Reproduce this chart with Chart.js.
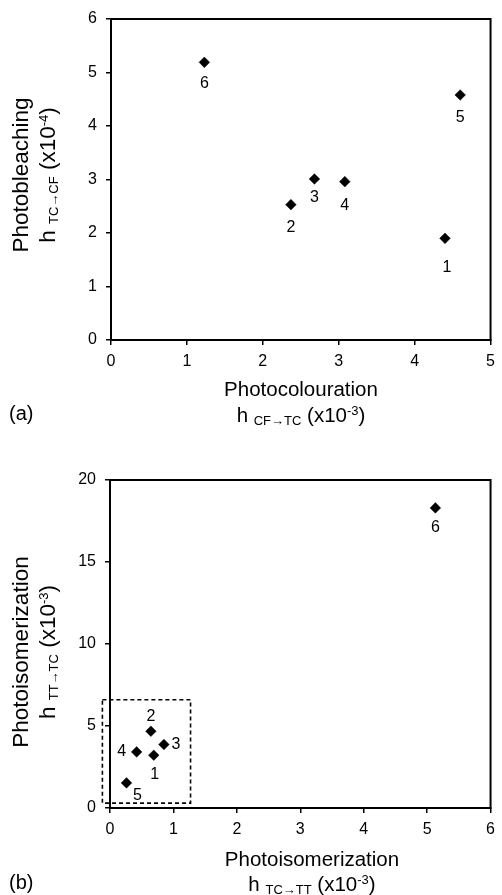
<!DOCTYPE html>
<html>
<head>
<meta charset="utf-8">
<script src="https://cdn.jsdelivr.net/npm/chart.js@4.4.1/dist/chart.umd.min.js"></script>
<style>
    html, body { margin: 0; padding: 0; background: #fff; }
    body { width: 502px; height: 895px; position: relative; overflow: hidden;
           font-family: "Liberation Sans", Arial, sans-serif; color: #000; }
    .panel { position: absolute; left: 0; width: 502px; }
    .title { position: absolute; white-space: nowrap; text-align: center; }
    .title div { height: 26px; line-height: 26px; }
    .title sub, .title sup { font-size: 13px; line-height: 0; }
    .title sub { vertical-align: -3px; }
    .title sup { vertical-align: 7px; }
    .ytitle { transform-origin: center center; }
    .tag { position: absolute; font-size: 20px; }
</style>
</head>
<body>

<div class="panel" style="top:0;height:440px"><canvas id="chartA"></canvas></div>
<div class="panel" style="top:440px;height:455px"><canvas id="chartB"></canvas></div>

<!-- titulos dos eixos (a) -->
<div class="title ytitle" style="font-size:22.5px;width:240px;left:-86px;top:148px;transform:rotate(-90deg)">
    <div style="height:27px;line-height:27px">Photobleaching</div>
    <div style="height:27px;line-height:27px">h <sub>TC→CF</sub> (x10<sup>-4</sup>)</div>
</div>
<div class="title" style="font-size:20.5px;width:300px;left:151px;top:376px">
    <div>Photocolouration</div>
    <div>h <sub>CF→TC</sub> (x10<sup>-3</sup>)</div>
</div>
<div class="tag" style="left:9px;top:402px">(a)</div>

<!-- titulos dos eixos (b) -->
<div class="title ytitle" style="font-size:22.5px;width:240px;left:-86px;top:625px;transform:rotate(-90deg)">
    <div style="height:27px;line-height:27px">Photoisomerization</div>
    <div style="height:27px;line-height:27px">h <sub>TT→TC</sub> (x10<sup>-3</sup>)</div>
</div>
<div class="title" style="font-size:20.5px;width:300px;left:162px;top:846px">
    <div style="height:25px;line-height:25px">Photoisomerization</div>
    <div style="height:25px;line-height:25px">h <sub>TC→TT</sub> (x10<sup>-3</sup>)</div>
</div>
<div class="tag" style="left:9px;top:871px">(b)</div>

<script>
// Dados (a): fotocoloracao x fotobranqueamento
var pointNames = ['1', '2', '3', '4', '5', '6'];
var colourA  = [4.40, 2.37, 2.68, 3.08, 4.60, 1.23];
var bleachA  = [1.90, 2.53, 3.01, 2.96, 4.58, 5.19];

// Dados (b): fotoisomerizacao
var isoTcTt  = [0.69, 0.645, 0.85, 0.42, 0.26, 5.13];
var isoTtTc  = [3.22, 4.68, 3.87, 3.42, 1.53, 18.3];

// caixa tracejada em (b): xmin, xmax, ymin, ymax
var zoomBox = [-0.12, 1.27, 0.3, 6.6];

// deslocamento dos rotulos [dx, dy] em px
var offsA = [[2, 29], [0, 23], [0, 19], [0, 24], [0, 23], [0, 21]];
var offsB = [[1, 19], [0, -15], [12, 0], [-15, 0], [11, 13], [0, 20]];

var FONT = "'Liberation Sans', Arial, sans-serif";

function toPts(xs, ys) {
    return xs.map(function (x, i) { return {x: x, y: ys[i]}; });
}

// rotulos dos pontos + moldura
var pointLabels = {
    id: 'pointLabels',
    afterDatasetsDraw: function (chart, args, opts) {
        var ctx = chart.ctx;
        var meta = chart.getDatasetMeta(0);
        ctx.save();
        ctx.font = '16px ' + FONT;
        ctx.fillStyle = '#000';
        ctx.textAlign = 'center';
        ctx.textBaseline = 'middle';
        meta.data.forEach(function (el, i) {
            var o = opts.offsets[i];
            ctx.fillText(pointNames[i], el.x + o[0], el.y + o[1]);
        });
        ctx.restore();
    },
    afterDraw: function (chart) {
        var a = chart.chartArea, ctx = chart.ctx;
        ctx.save();
        ctx.strokeStyle = '#000';
        ctx.lineWidth = 2;
        ctx.strokeRect(a.left, a.top, a.right - a.left, a.bottom - a.top);
        ctx.restore();
    }
};

var dashBox = {
    id: 'dashBox',
    afterDraw: function (chart, args, opts) {
        if (!opts.box) return;
        var sx = chart.scales.x, sy = chart.scales.y, ctx = chart.ctx;
        var x1 = sx.getPixelForValue(opts.box[0]), x2 = sx.getPixelForValue(opts.box[1]);
        var y1 = sy.getPixelForValue(opts.box[3]), y2 = sy.getPixelForValue(opts.box[2]);
        ctx.save();
        ctx.strokeStyle = '#000';
        ctx.lineWidth = 1.6;
        ctx.setLineDash([4, 3]);
        ctx.strokeRect(x1, y1, x2 - x1, y2 - y1);
        ctx.restore();
    }
};

function axis(min, max, step, fitSize, isY) {
    return {
        type: 'linear',
        min: min,
        max: max,
        ticks: {
            stepSize: step,
            color: '#000',
            padding: isY ? 9 : 7,
            font: {family: FONT, size: 16}
        },
        grid: {
            drawOnChartArea: false,
            drawTicks: true,
            tickLength: 5,
            color: '#000',
            lineWidth: 1.5
        },
        border: {color: '#000', width: 2},
        afterFit: function (scale) {
            if (isY) scale.width = fitSize; else scale.height = fitSize;
        }
    };
}

function makeChart(id, xs, ys, xAxis, yAxis, pad, offs, box) {
    return new Chart(document.getElementById(id).getContext('2d'), {
        type: 'scatter',
        data: {
            datasets: [{
                data: toPts(xs, ys),
                pointStyle: 'rectRot',
                pointRadius: 5.3,
                backgroundColor: '#000',
                borderColor: '#000',
                borderWidth: 0.5
            }]
        },
        options: {
            responsive: true,
            maintainAspectRatio: false,
            animation: false,
            layout: {padding: pad},
            scales: {x: xAxis, y: yAxis},
            plugins: {
                legend: {display: false},
                tooltip: {enabled: false},
                pointLabels: {offsets: offs},
                dashBox: {box: box}
            }
        },
        plugins: [pointLabels, dashBox]
    });
}

makeChart('chartA', colourA, bleachA,
    axis(0, 5, 1, 100, false), axis(0, 6, 1, 111, true),
    {top: 19, right: 9, bottom: 0, left: 0}, offsA, null);

makeChart('chartB', isoTcTt, isoTtTc,
    axis(0, 6, 1, 87, false), axis(0, 20, 5, 110, true),
    {top: 40, right: 4, bottom: 0, left: 0}, offsB, zoomBox);
</script>
</body>
</html>
